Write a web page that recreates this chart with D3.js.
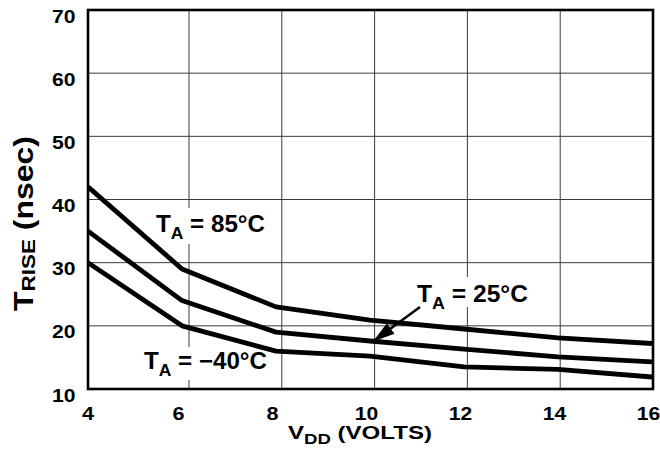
<!DOCTYPE html>
<html>
<head>
<meta charset="utf-8">
<script src="https://cdn.jsdelivr.net/npm/d3@7"></script>
<style>
  body { margin: 0; background: #fff; }
  text { font-family: "Liberation Sans", Arial, Helvetica, sans-serif; font-weight: bold; fill: #000; }
</style>
</head>
<body>
<svg id="chart" width="660" height="455"></svg>
<script>
// Rise time (nsec) versus supply voltage VDD (volts) at three ambient temperatures
const vdd      = [4, 6, 8, 10, 12, 14, 16];
const riseT85  = [42, 29, 23, 20.9, 19.5, 18.1, 17.2];
const riseT25  = [35, 24, 19, 17.6, 16.3, 15.1, 14.3];
const riseTm40 = [30, 20, 16, 15.2, 13.5, 13.1, 11.9];

const yTicks = [10, 20, 30, 40, 50, 60, 70];
const xTicks = [4, 6, 8, 10, 12, 14, 16];

const tempLabels = ["85°C", "25°C", "−40°C"];

const svg = d3.select("#chart");

const plotLeft = 88, plotRight = 653, plotTop = 10, plotBottom = 389;

// data scale for the curves and tick labels
const x = d3.scaleLinear().domain([4, 16]).range([plotLeft, 652]);
// the printed grid is slightly offset from the curve scale past the first division
const xGrid = d3.scaleLinear().domain([4, 6, 16]).range([plotLeft, 189, plotRight]);
const y = d3.scaleLinear().domain([10, 70]).range([plotBottom, plotTop]);

// Stretch a text node horizontally (in its own frame) to a target length
function fitText(sel, tx, ty, target, rot) {
  const len = sel.node().getComputedTextLength();
  const sx = target / len;
  sel.attr("transform", `translate(${tx},${ty}) rotate(${rot || 0}) scale(${sx},1)`);
  return sel;
}

// Text with a subscript part: [main, sub, rest]
function subText(g, parts, sizes, subDy) {
  const t = g.append("text");
  t.append("tspan").attr("font-size", sizes[0]).text(parts[0]);
  t.append("tspan").attr("font-size", sizes[1]).attr("dy", subDy).text(parts[1]);
  if (parts[2]) t.append("tspan").attr("font-size", sizes[0]).attr("dy", -subDy).text(parts[2]);
  return t;
}

// grid
const grid = svg.append("g").attr("stroke", "#3a3a3a").attr("stroke-width", 1);
grid.selectAll("line.gx")
  .data(xTicks.slice(1, -1))
  .join("line")
  .attr("class", "gx")
  .attr("x1", d => xGrid(d)).attr("x2", d => xGrid(d))
  .attr("y1", plotTop).attr("y2", plotBottom);
grid.selectAll("line.gy")
  .data(yTicks.slice(1, -1))
  .join("line")
  .attr("class", "gy")
  .attr("x1", plotLeft).attr("x2", plotRight)
  .attr("y1", d => y(d)).attr("y2", d => y(d));

// white panels behind the curve labels
const panels = [
  { x: 150, y: 208, w: 122, h: 36 },
  { x: 411, y: 277, w: 123, h: 30 },
  { x: 138, y: 347, w: 136, h: 33 }
];
svg.append("g").selectAll("rect")
  .data(panels)
  .join("rect")
  .attr("x", d => d.x).attr("y", d => d.y)
  .attr("width", d => d.w).attr("height", d => d.h)
  .attr("fill", "#fff");

// curves
svg.append("clipPath").attr("id", "plotClip")
  .append("rect").attr("x", plotLeft).attr("y", plotTop)
  .attr("width", plotRight - plotLeft).attr("height", plotBottom - plotTop);

const line = d3.line().x((d, i) => x(vdd[i])).y(d => y(d));
svg.append("g").attr("clip-path", "url(#plotClip)")
  .selectAll("path")
  .data([riseT85, riseT25, riseTm40])
  .join("path")
  .attr("d", line)
  .attr("fill", "none")
  .attr("stroke", "#000")
  .attr("stroke-width", 4.8)
  .attr("stroke-linejoin", "round");

// frame
svg.append("rect")
  .attr("x", plotLeft).attr("y", plotTop)
  .attr("width", plotRight - plotLeft).attr("height", plotBottom - plotTop)
  .attr("fill", "none").attr("stroke", "#000").attr("stroke-width", 2.6);

// y tick labels
yTicks.forEach(v => {
  const t = svg.append("text").attr("text-anchor", "end").attr("font-size", 18).text(v);
  fitText(t, 75.5, y(v) + 12.5, 23.5);
});

// x tick labels
xTicks.forEach(v => {
  const t = svg.append("text").attr("text-anchor", "middle").attr("font-size", 18).text(v);
  fitText(t, x(v) - (v === 4 ? 0 : 3.5), 419.5, v < 10 ? 12 : 23.5);
});

// axis titles
const xTitle = subText(svg, ["V", "DD", " (VOLTS)"], [18.8, 14.5], 5);
fitText(xTitle, 288, 438.5, 144);

const yTitle = subText(svg, ["T", "RISE", " (nsec)"], [27, 19], 2);
fitText(yTitle, 32.5, 311, 175, -90);

// curve labels
const labelPos = [
  { x: 156, y: 231.7, w: 109 },
  { x: 417, y: 301.5, w: 111 },
  { x: 144, y: 369.3, w: 123 }
];
tempLabels.forEach((s, i) => {
  const t = subText(svg, ["T", "A", " = " + s], [23.5, 17], 7);
  fitText(t, labelPos[i].x, labelPos[i].y, labelPos[i].w);
});

// arrow from the 25°C label to its curve
const defs = svg.append("defs");
defs.append("marker")
  .attr("id", "head")
  .attr("markerUnits", "userSpaceOnUse")
  .attr("markerWidth", 24).attr("markerHeight", 14)
  .attr("refX", 22).attr("refY", 6.5)
  .attr("orient", "auto")
  .append("path").attr("d", "M0,0 L22,6.5 L0,13 Z").attr("fill", "#000");

svg.append("line")
  .attr("x1", 420).attr("y1", 307)
  .attr("x2", 373).attr("y2", 341.5)
  .attr("stroke", "#000").attr("stroke-width", 2.6)
  .attr("marker-end", "url(#head)");
</script>
</body>
</html>
